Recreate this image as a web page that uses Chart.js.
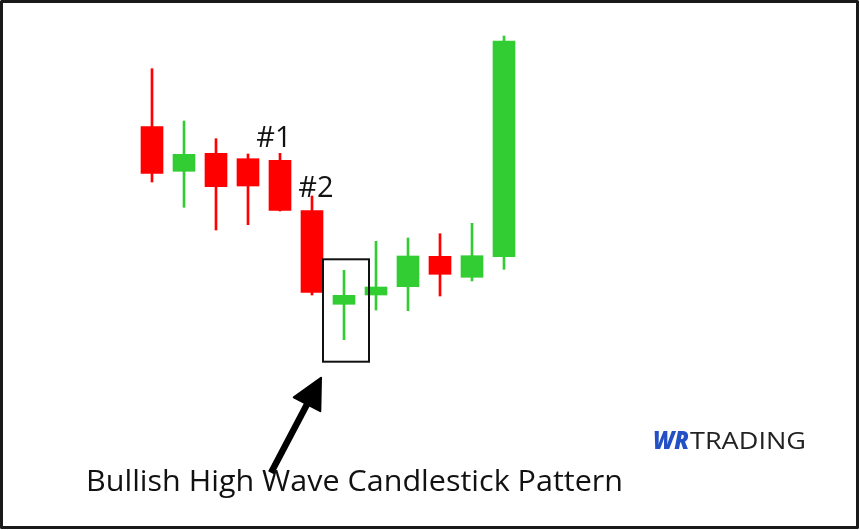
<!DOCTYPE html>
<html>
<head>
<meta charset="utf-8">
<script src="https://cdn.jsdelivr.net/npm/chart.js@4.4.0/dist/chart.umd.min.js"></script>
<style>
  html, body { margin: 0; padding: 0; background: #fff; }
  #wrap { width: 860px; height: 530px; }
</style>
</head>
<body>
<div id="wrap"><canvas id="chart" width="860" height="530"></canvas></div>
<script>
// one entry per session
const sessions = ['1', '2', '3', '4', '5', '6', '7', '8', '9', '10', '11', '12'];
const opens  = [40.33, 35.87, 37.67, 37.13, 36.97, 31.93, 22.57, 23.50, 24.33, 27.37, 25.27, 27.33];
const closes = [35.67, 37.57, 34.33, 34.40, 31.97, 23.77, 23.47, 24.30, 27.40, 25.57, 27.43, 48.90];
const highs  = [46.13, 40.90, 39.13, 37.60, 37.67, 33.40, 25.97, 28.87, 29.20, 29.63, 30.67, 49.40];
const lows   = [34.80, 32.27, 30.00, 30.53, 31.90, 23.50, 19.03, 22.00, 21.93, 23.40, 24.90, 26.07];

const UP = '#32cd32';
const DOWN = '#ff0000';
const colors = opens.map((o, i) => closes[i] >= o ? UP : DOWN);

// draw text squeezed or stretched to a given width
function fitText(ctx, str, x, baseline, width) {
  const w = ctx.measureText(str).width;
  ctx.save();
  ctx.translate(x, baseline);
  ctx.scale(width / w, 1);
  ctx.fillText(str, 0, 0);
  ctx.restore();
}

const overlay = {
  id: 'overlay',
  beforeDraw(chart) {
    const ctx = chart.ctx;
    ctx.save();
    ctx.fillStyle = '#fff';
    ctx.fillRect(0, 0, chart.width, chart.height);
    ctx.restore();
  },
  afterDraw(chart) {
    const ctx = chart.ctx;
    const x = chart.scales.x, y = chart.scales.y;
    ctx.save();
    ctx.fillStyle = '#111';
    ctx.textAlign = 'center';
    ctx.textBaseline = 'alphabetic';
    ctx.font = '29px "Open Sans"';
    ctx.fillText('#1', x.getPixelForValue(4) - 6, 147);
    ctx.fillText('#2', x.getPixelForValue(5) + 4, 197);

    // box around the high wave candle
    const c7 = x.getPixelForValue(6);
    const bl = c7 - 21, br = c7 + 25;
    const bt = y.getPixelForValue(highs[6]) - 11;
    const bb = y.getPixelForValue(lows[6]) + 22;
    ctx.strokeStyle = '#111';
    ctx.lineWidth = 2;
    ctx.strokeRect(bl, bt, br - bl, bb - bt);

    // arrow
    const tip = { x: bl - 2, y: bb + 16 };
    const tail = { x: tip.x - 50, y: tip.y + 95 };
    const dx = tip.x - tail.x, dy = tip.y - tail.y;
    const len = Math.hypot(dx, dy);
    const ux = dx / len, uy = dy / len;
    const px = -uy, py = ux;
    const headLen = 30, headW = 15;
    const base = { x: tip.x - ux * headLen, y: tip.y - uy * headLen };
    ctx.fillStyle = '#000';
    ctx.strokeStyle = '#000';
    ctx.lineWidth = 6.5;
    ctx.lineCap = 'butt';
    ctx.beginPath();
    ctx.moveTo(tail.x, tail.y);
    ctx.lineTo(base.x + ux * 4, base.y + uy * 4);
    ctx.stroke();
    ctx.beginPath();
    ctx.moveTo(tip.x, tip.y);
    ctx.lineTo(base.x + px * headW, base.y + py * headW);
    ctx.lineTo(base.x - px * headW, base.y - py * headW);
    ctx.closePath();
    ctx.lineJoin = 'round';
    ctx.lineWidth = 2;
    ctx.fill();
    ctx.stroke();

    // caption
    ctx.fillStyle = '#111';
    ctx.textAlign = 'left';
    ctx.font = '29px "Open Sans"';
    fitText(ctx, 'Bullish High Wave Candlestick Pattern', 86, 491, 537);

    // logo
    const grad = ctx.createLinearGradient(654, 0, 690, 0);
    grad.addColorStop(0, '#2350c4');
    grad.addColorStop(1, '#3d78e3');
    ctx.fillStyle = grad;
    ctx.font = 'italic 800 24px "Open Sans"';
    fitText(ctx, 'WR', 653, 449, 36);
    ctx.fillStyle = '#222';
    ctx.font = '24px "Open Sans"';
    fitText(ctx, 'TRADING', 690, 449, 116);

    // frame
    ctx.strokeStyle = '#1a1a1a';
    ctx.lineWidth = 3;
    ctx.strokeRect(1.5, 1.5, chart.width - 4, chart.height - 4);
    ctx.restore();
  }
};

new Chart(document.getElementById('chart'), {
  type: 'bar',
  data: {
    labels: sessions,
    datasets: [
      {
        label: 'wick',
        data: lows.map((l, i) => [l, highs[i]]),
        backgroundColor: colors,
        barThickness: 2,
        grouped: false,
        borderWidth: 0,
        order: 2
      },
      {
        label: 'body',
        data: opens.map((o, i) => [o, closes[i]]),
        backgroundColor: colors,
        barThickness: 22,
        grouped: false,
        borderWidth: 0,
        borderSkipped: false,
        order: 1
      }
    ]
  },
  options: {
    responsive: false,
    devicePixelRatio: 1,
    animation: false,
    layout: { padding: { left: 136, right: 340, top: 30, bottom: 150 } },
    plugins: { legend: { display: false }, tooltip: { enabled: false } },
    scales: {
      x: { display: false, offset: true },
      y: { display: false, min: 15, max: 50 }
    }
  },
  plugins: [overlay]
});
</script>
</body>
</html>
